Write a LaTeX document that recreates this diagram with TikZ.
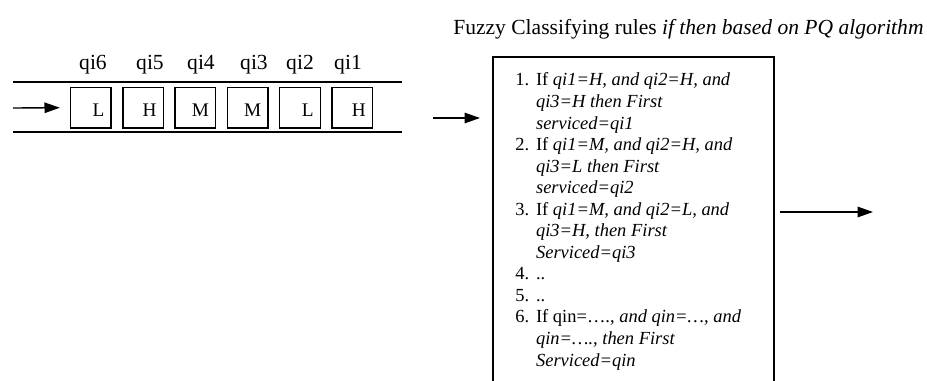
\documentclass[tikz,border=0pt]{standalone}
\usepackage{fontspec}
\setmainfont{Liberation Serif}
\usetikzlibrary{arrows.meta,positioning}
\tikzset{
ARROW/.style={draw=black,line width=0.9pt,-{Triangle[length=10pt,width=6.8pt]}},
PIPE/.style={draw=black,line width=1.3pt},
CELL/.style={draw=black,line width=0.9pt,minimum width=26.3pt,minimum height=26.3pt,inner sep=0pt,text width=17.5pt,align=right,text height=12.5pt,text depth=0.5pt,font=\fontsize{12.5}{14}\selectfont},
LABEL/.style={anchor=base,inner sep=0pt,font=\fontsize{14}{16}\selectfont},
RULEBOX/.style={draw=black,line width=1.3pt},
}
\begin{document}
\begin{tikzpicture}[x=0.65pt,y=-0.65pt,font=\fontsize{12}{14}\selectfont]
	\useasboundingbox (0,0) rectangle (927,381);
	\clip (0,0) rectangle (927,381);
	\node[anchor=base west,inner sep=0pt,font=\fontsize{14}{16}\selectfont] (title) at (453,35) {Fuzzy Classifying rules \textit{if then based on PQ algorithm}};
	\path[PIPE] (13,82) -- (402,82);
	\path[PIPE] (13,132) -- (402,132);
	\node[CELL] (q6) at (90.8,107.7) {L};
	\node[CELL,right=6.8pt of q6] (q5) {H};
	\node[CELL,right=6.8pt of q5] (q4) {M};
	\node[CELL,right=6.8pt of q4] (q3) {M};
	\node[CELL,right=6.8pt of q3] (q2) {L};
	\node[CELL,right=6.8pt of q2] (q1) {H};
	\node[LABEL] (l6) at (93,70) {qi6};
	\node[LABEL] (l5) at (150,70) {qi5};
	\node[LABEL] (l4) at (201,70) {qi4};
	\node[LABEL] (l3) at (254,70) {qi3};
	\node[LABEL] (l2) at (300,70) {qi2};
	\node[LABEL] (l1) at (348,70) {qi1};
	\coordinate (qin) at (13,108);
	\path[ARROW] (qin) -- ([xshift=-6.5pt]q6.west);
	\coordinate (rin) at (433,118);
	\coordinate (rinend) at (480,118);
	\path[ARROW] (rin) -- (rinend);
	\path[RULEBOX] (493,57) rectangle (774,400);
	\node[anchor=base west,inner sep=0pt] (rules) at (515,86) {\begin{tabular}[t]{@{}p{13.5pt}@{}l@{}}
		1. & If \textit{qi1=H, and qi2=H, and}\\
		 & \textit{qi3=H then First}\\
		 & \textit{serviced=qi1}\\
		2. & If \textit{qi1=M, and qi2=H, and}\\
		 & \textit{qi3=L then First}\\
		 & \textit{serviced=qi2}\\
		3. & If \textit{qi1=M, and qi2=L, and}\\
		 & \textit{qi3=H, then First}\\
		 & \textit{Serviced=qi3}\\
		4. & ..\\
		5. & ..\\
		6. & If qin=…., \textit{and qin=…, and}\\
		 & \textit{qin=…., then First}\\
		 & \textit{Serviced=qin}
	\end{tabular}};
	\coordinate (rout) at (780,212);
	\coordinate (routend) at (873,212);
	\path[ARROW] (rout) -- (routend);
\end{tikzpicture}
\end{document}
